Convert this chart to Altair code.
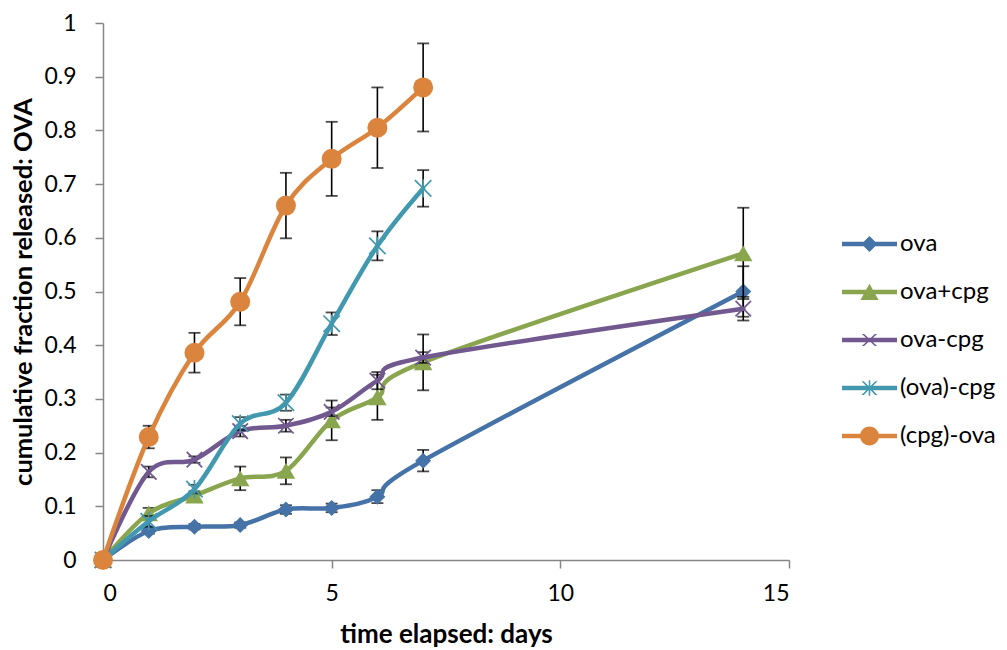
import altair as alt
import pandas as pd

# ---------------- data ----------------
series = ["ova", "ova+cpg", "ova-cpg", "(ova)-cpg", "(cpg)-ova"]
colors = ["#4572A7", "#89A54E", "#71588F", "#4198AF", "#DB843D"]

days_long = [0, 1, 2, 3, 4, 5, 6, 7, 14]
days_short = [0, 1, 2, 3, 4, 5, 6, 7]

ova_val = [0, 0.054, 0.062, 0.065, 0.094, 0.097, 0.118, 0.185, 0.500]
ova_err = [0, 0.005, 0.005, 0.005, 0.008, 0.008, 0.012, 0.020, 0.047]

ovacpg_val = [0, 0.087, 0.120, 0.152, 0.166, 0.260, 0.303, 0.368, 0.571]
ovacpg_err = [0, 0.010, 0.008, 0.022, 0.025, 0.037, 0.042, 0.052, 0.085]

ovadash_val = [0, 0.164, 0.187, 0.240, 0.250, 0.276, 0.334, 0.377, 0.468]
ovadash_err = [0, 0.010, 0.006, 0.010, 0.011, 0.008, 0.016, 0.010, 0.022]

povacpg_val = [0, 0.072, 0.132, 0.254, 0.293, 0.440, 0.585, 0.692]
povacpg_err = [0, 0.010, 0.008, 0.012, 0.015, 0.021, 0.027, 0.034]

pcpgova_val = [0, 0.229, 0.386, 0.481, 0.660, 0.747, 0.805, 0.880]
pcpgova_err = [0, 0.021, 0.037, 0.044, 0.061, 0.069, 0.075, 0.082]

x_ticks = [0, 5, 10, 15]
y_ticks = [0, 0.1, 0.2, 0.3, 0.4, 0.5, 0.6, 0.7, 0.8, 0.9, 1.0]

table = [
    ("ova", days_long, ova_val, ova_err),
    ("ova+cpg", days_long, ovacpg_val, ovacpg_err),
    ("ova-cpg", days_long, ovadash_val, ovadash_err),
    ("(ova)-cpg", days_short, povacpg_val, povacpg_err),
    ("(cpg)-ova", days_short, pcpgova_val, pcpgova_err),
]
rows = []
for name, d, v, e in table:
    for di, vi, ei in zip(d, v, e):
        rows.append({"series": name, "day": di, "value": vi, "err": ei,
                     "lo": vi - ei, "hi": vi + ei})
df = pd.DataFrame(rows)

# ---------------- marker shapes ----------------
X_PATH = "M-1,-1L1,1M-1,1L1,-1"
STAR_PATH = "M-1,-1L1,1M-1,1L1,-1M0,-1.1L0,1.1"
plot_marks = {
    "ova": dict(shape="diamond", size=256, filled=True),
    "ova+cpg": dict(shape="triangle-up", size=340, filled=True),
    "ova-cpg": dict(shape=X_PATH, size=240, filled=False),
    "(ova)-cpg": dict(shape=STAR_PATH, size=270, filled=False),
    "(cpg)-ova": dict(shape="circle", size=400, filled=True),
}


def f(v):
    return ("%.3f" % v).rstrip("0").rstrip(".")


def poly(pts):
    return "M" + "L".join(f"{f(x)},{f(y)}" for x, y in pts) + "Z"


BAR = poly([(-1, -0.085), (1, -0.085), (1, 0.085), (-1, 0.085)])


def xarms(a, b, e):
    return (poly([(-a - e, -b), (-a + e, -b), (a + e, b), (a - e, b)]) +
            poly([(a - e, -b), (a + e, -b), (-a + e, b), (-a - e, b)]))


r = 0.345
legend_paths = [
    BAR + poly([(0, -0.29), (0.29, 0), (0, 0.29), (-0.29, 0)]),
    BAR + poly([(0, -0.3), (0.33, 0.29), (-0.33, 0.29)]),
    BAR + xarms(0.236, 0.218, 0.04),
    BAR + xarms(0.25, 0.25, 0.04) + poly([(-0.028, -0.28), (0.028, -0.28), (0.028, 0.28), (-0.028, 0.28)]),
    BAR + f"M{r},0A{r},{r} 0 1,1 -{r},0A{r},{r} 0 1,1 {r},0Z",
]

# ---------------- chart ----------------
x_axis = alt.Axis(values=x_ticks, title="time elapsed: days", grid=False,
                  tickSize=8, labelPadding=14, titleY=82, titleBaseline="alphabetic",
                  titleFontSize=26)
y_axis = alt.Axis(values=y_ticks, format=".1~f", title="cumulative fraction released: OVA",
                  grid=False, tickSize=8, labelPadding=19, titleX=-80,
                  titleBaseline="middle", titleFontSize=25.5)
x_scale = alt.Scale(domain=[0, 15], nice=False)
y_scale = alt.Scale(domain=[0, 1], nice=False)


def X(field="day"):
    return alt.X(f"{field}:Q", scale=x_scale, axis=x_axis)


def Y(field):
    return alt.Y(f"{field}:Q", scale=y_scale, axis=y_axis)


base = alt.Chart(df)
layers = []
for name, col in zip(series, colors):
    sub = base.transform_filter(alt.datum.series == name)
    err = sub.transform_filter(alt.datum.err > 0)
    layers.append(err.mark_rule(color="black", strokeWidth=1.6).encode(
        x=X(), y=Y("lo"), y2="hi:Q"))
    layers.append(err.mark_tick(color="black", orient="horizontal", size=12,
                                thickness=1.8).encode(x=X(), y=Y("lo")))
    layers.append(err.mark_tick(color="black", orient="horizontal", size=12,
                                thickness=1.8).encode(x=X(), y=Y("hi")))
    layers.append(sub.mark_line(color=col, strokeWidth=4.5, interpolate="cardinal",
                                strokeCap="round", strokeJoin="round").encode(
        x=X(), y=Y("value"), order="day:Q"))
    m = plot_marks[name]
    if m["filled"]:
        pt = sub.mark_point(filled=True, opacity=1, color=col, size=m["size"],
                            shape=m["shape"], strokeWidth=0)
    else:
        pt = sub.mark_point(filled=False, opacity=1, color=col, size=m["size"],
                            shape=m["shape"], strokeWidth=1.7)
    layers.append(pt.encode(x=X(), y=Y("value")))

leg = alt.Legend(title=None, orient="none", legendX=739, legendY=197,
                 symbolSize=3025, symbolOpacity=1, symbolStrokeWidth=0,
                 rowPadding=0, clipHeight=48, labelOffset=3, labelFontSize=24,
                 labelColor="black", labelFont="Lato")
legend_layer = base.transform_filter("false").mark_point(filled=True, opacity=1).encode(
    x=X(), y=Y("value"),
    color=alt.Color("series:N", scale=alt.Scale(domain=series, range=colors), legend=leg),
    shape=alt.Shape("series:N", scale=alt.Scale(domain=series, range=legend_paths), legend=leg),
)
layers.append(legend_layer)

chart = alt.layer(*layers).properties(
    width=686, height=537,
    autosize=alt.AutoSizeParams(type="none"),
    padding={"left": 95, "top": 15, "right": 210, "bottom": 90},
).configure(font="Lato").configure_view(stroke=None).configure_axis(
    domainColor="#868686", tickColor="#868686", domainWidth=1.5, tickWidth=1.5,
    labelFont="Lato", labelFontSize=23, labelColor="black",
    titleFont="Lato", titleFontWeight="bold", titleColor="black",
)

chart.save("out.html", embed_options={"renderer": "svg", "actions": False})
